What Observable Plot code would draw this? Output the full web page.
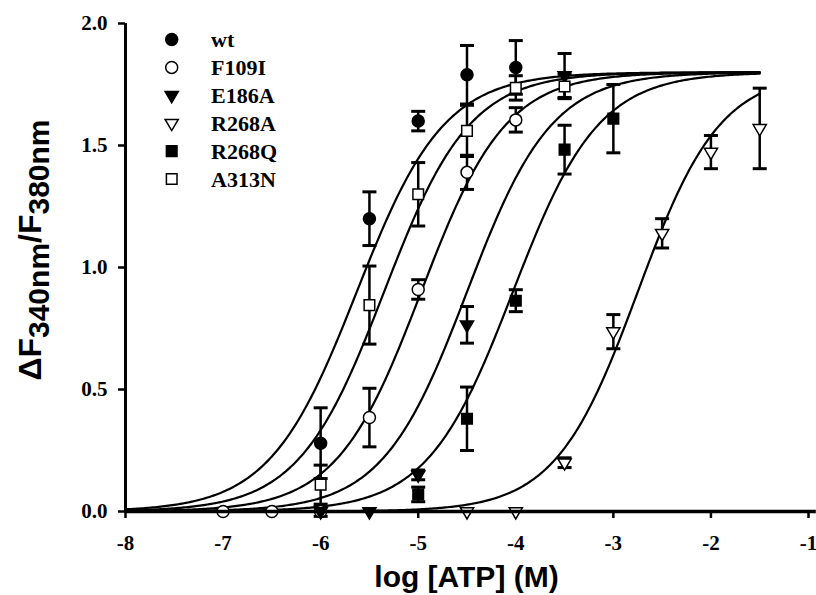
<!DOCTYPE html>
<html><head><meta charset="utf-8">
<script src="https://cdn.jsdelivr.net/npm/d3@7"></script>
<script src="https://cdn.jsdelivr.net/npm/@observablehq/plot@0.6"></script>
<style>body{margin:0;background:#fff}#chart{width:816px;height:595px}</style>
</head><body><div id="chart"></div>
<script>
// ---- data ----
const seriesNames = ["wt", "F109I", "E186A", "R268A", "R268Q", "A313N"];

const wtX = [-6, -5.5, -5, -4.5, -4];
const wtY = [0.28, 1.20, 1.60, 1.79, 1.82];
const wtErr = [0.145, 0.11, 0.04, 0.12, 0.11];

const f109iX = [-7, -6.5, -6, -5.5, -5, -4.5, -4];
const f109iY = [0, 0, 0, 0.385, 0.91, 1.39, 1.605];
const f109iErr = [0, 0, 0, 0.12, 0.04, 0.07, 0.05];

const e186aX = [-6, -5.5, -5, -4.5, -3.5];
const e186aY = [0.0, 0.0, 0.15, 0.765, 1.787];
const e186aErr = [0.02, 0, 0.02, 0.075, 0.09];

const r268aX = [-4.5, -4, -3.5, -3, -2.5, -2, -1.5];
const r268aY = [0, 0, 0.20, 0.737, 1.14, 1.473, 1.57];
const r268aErr = [0, 0, 0.02, 0.07, 0.06, 0.068, 0.165];

const r268qX = [-5, -4.5, -4, -3.5, -3];
const r268qY = [0.07, 0.38, 0.864, 1.483, 1.61];
const r268qErr = [0.03, 0.13, 0.045, 0.10, 0.14];

const a313nX = [-6, -5.5, -5, -4.5, -4, -3.5];
const a313nY = [0.11, 0.846, 1.30, 1.56, 1.736, 1.742];
const a313nErr = [0.08, 0.16, 0.13, 0.105, 0.05, 0.05];

// Hill-fit parameters (log EC50, slope), same order as seriesNames
const fitLogEC50 = [-5.63, -4.97, -4.50, -2.75, -4.03, -5.35];
const fitSlope = [0.97, 1.0, 1.0, 1.03, 0.99, 0.99];
const fitTop = 1.8;
const fitRange = [-8, -1.5];

const xTicks = [-8, -7, -6, -5, -4, -3, -2, -1];
const yTicks = [0, 0.5, 1.0, 1.5, 2.0];

// ---- build tables ----
const rawSeries = [
  [wtX, wtY, wtErr], [f109iX, f109iY, f109iErr], [e186aX, e186aY, e186aErr],
  [r268aX, r268aY, r268aErr], [r268qX, r268qY, r268qErr], [a313nX, a313nY, a313nErr]
];
const points = [];
rawSeries.forEach(([xs, ys, es], k) => xs.forEach((x, i) =>
  points.push({series: seriesNames[k], x, y: ys[i], err: es[i]})));
const withErr = points.filter(d => d.err > 0);

const curves = [];
seriesNames.forEach((s, k) => {
  for (let x = fitRange[0]; x <= fitRange[1] + 1e-9; x += 0.02) {
    curves.push({series: s, x, y: fitTop / (1 + Math.pow(10, (fitLogEC50[k] - x) * fitSlope[k]))});
  }
});

// ---- symbols ----
const symCircle = {draw(c) { c.moveTo(6, 0); c.arc(0, 0, 6, 0, 2 * Math.PI); }};
const symSquare = {draw(c) { const h = 5.3; c.moveTo(-h, -h); c.lineTo(h, -h); c.lineTo(h, h); c.lineTo(-h, h); c.closePath(); }};
const symTriDown = {draw(c) { c.moveTo(-6.6, -3.8); c.lineTo(6.6, -3.8); c.lineTo(0, 7.4); c.closePath(); }};
const symCap = {draw(c) { c.moveTo(-7, 0); c.lineTo(7, 0); }};

const styleOf = {
  "wt":    {symbol: symCircle, fill: "black"},
  "F109I": {symbol: symCircle, fill: "white"},
  "E186A": {symbol: symTriDown, fill: "black"},
  "R268A": {symbol: symTriDown, fill: "white"},
  "R268Q": {symbol: symSquare, fill: "black"},
  "A313N": {symbol: symSquare, fill: "white"}
};

const serif = "'Liberation Serif', 'Times New Roman', serif";
const sans = "'Liberation Sans', Arial, sans-serif";

const dotMarks = seriesNames.map(s => Plot.dot(points.filter(d => d.series === s), {
  x: "x", y: "y", symbol: styleOf[s].symbol, fill: styleOf[s].fill,
  stroke: "black", strokeWidth: 1.5, r: 6
}));

const plot = Plot.plot({
  width: 816, height: 595,
  marginLeft: 125, marginRight: 8, marginTop: 23, marginBottom: 84,
  x: {domain: [-8, -1]},
  y: {domain: [0, 2]},
  style: {fontFamily: serif, fontWeight: "bold", fontSize: "21px", color: "black", background: "white"},
  marks: [
    Plot.axisX({ticks: xTicks, tickFormat: d => String(d), tickSize: 7, tickPadding: 17, strokeWidth: 2.5, label: null, fontSize: 21, fontWeight: "bold", fontFamily: serif}),
    Plot.axisY({ticks: yTicks, tickFormat: d3.format(".1f"), tickSize: 7, tickPadding: 11, strokeWidth: 2.5, label: null, fontSize: 21, fontWeight: "bold", fontFamily: serif}),
    Plot.line(curves, {x: "x", y: "y", z: "series", stroke: "black", strokeWidth: 2.2}),
    Plot.ruleX(withErr, {x: "x", y1: d => d.y - d.err, y2: d => d.y + d.err, stroke: "black", strokeWidth: 2.5}),
    Plot.dot(withErr, {x: "x", y: d => d.y + d.err, symbol: symCap, stroke: "black", strokeWidth: 3}),
    Plot.dot(withErr, {x: "x", y: d => d.y - d.err, symbol: symCap, stroke: "black", strokeWidth: 3}),
    ...dotMarks,
    Plot.ruleY([0], {x1: -8, x2: -0.92, stroke: "black", strokeWidth: 3.5}),
    Plot.ruleX([-8], {stroke: "black", strokeWidth: 3})
  ]
});

const svg = d3.select(plot);

// Legend
const leg = svg.append("g").attr("text-anchor", "start");
seriesNames.forEach((s, i) => {
  const cy = 39.5 + i * 27.9;
  leg.append("path")
    .attr("d", d3.symbol(styleOf[s].symbol)())
    .attr("transform", `translate(171.7,${cy})`)
    .attr("fill", styleOf[s].fill).attr("stroke", "black").attr("stroke-width", 1.5);
  leg.append("text").attr("x", 211).attr("y", cy).attr("dy", "0.36em")
    .attr("text-anchor", "start")
    .attr("font-family", serif).attr("font-weight", "bold").attr("font-size", 22)
    .attr("fill", "black").text(s);
});

// X title
svg.append("text").attr("x", 466.5).attr("y", 587).attr("text-anchor", "middle")
  .attr("font-family", sans).attr("font-weight", "bold").attr("font-size", 30)
  .attr("fill", "black").text("log [ATP] (M)");

// Y title with subscripts
const yt = svg.append("text").attr("transform", "translate(41,250) rotate(-90)")
  .attr("text-anchor", "middle").attr("font-family", sans).attr("font-weight", "bold")
  .attr("font-size", 32).attr("fill", "black");
yt.append("tspan").text("ΔF");
yt.append("tspan").attr("dy", 8).attr("font-size", 30).text("340nm");
yt.append("tspan").attr("dy", -8).text("/F");
yt.append("tspan").attr("dy", 8).attr("font-size", 30).text("380nm");

document.getElementById("chart").appendChild(plot);
</script>
</body></html>
